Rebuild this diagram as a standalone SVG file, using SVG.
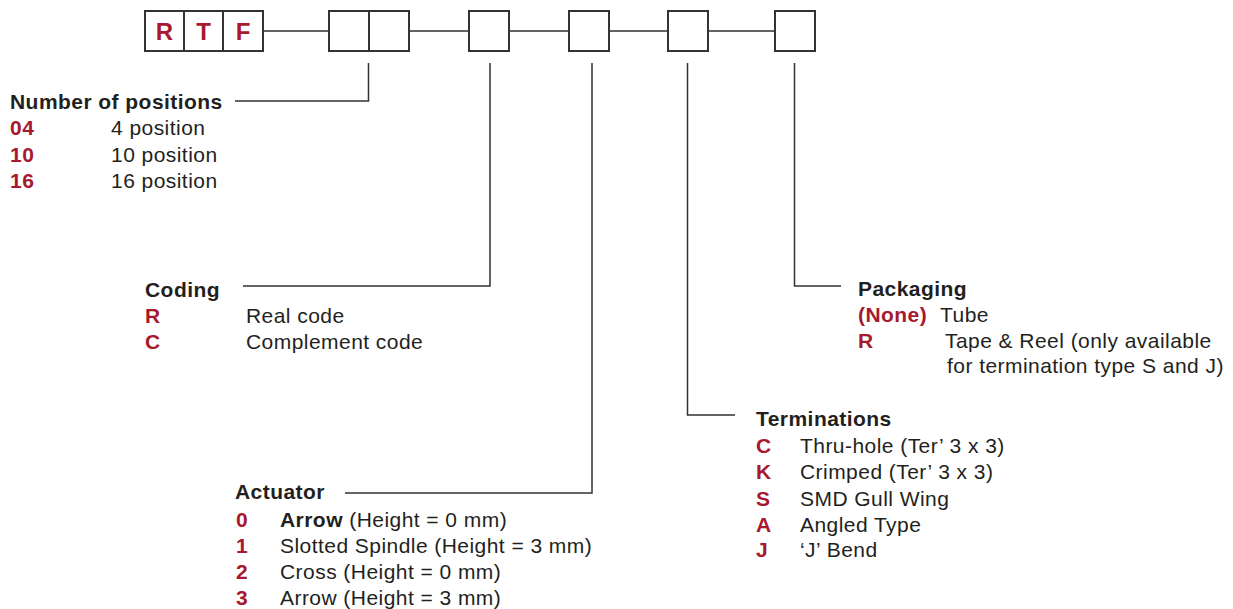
<svg xmlns="http://www.w3.org/2000/svg" width="1233" height="609" viewBox="0 0 1233 609">
<style>
text{font-family:"Liberation Sans",Arial,sans-serif;font-size:21px;letter-spacing:0.45px;fill:#231f20}
.h{font-weight:bold}
.r{font-weight:bold;fill:#a6192e}
.box{fill:#fff;stroke:#333;stroke-width:2}
.ln{fill:none;stroke:#333;stroke-width:1.5}
.code{font-size:24px;letter-spacing:0;text-anchor:middle}
</style>
<rect width="1233" height="609" fill="#fff"/>
<g id="connectors">
<path class="ln" d="M263 31H329M409 31H469M509 31H569M609 31H668M708 31H775"/>
<path class="ln" d="M235 101H368.5V63"/>
<path class="ln" d="M243 286H490V63"/>
<path class="ln" d="M345 493H592V63"/>
<path class="ln" d="M735 415H687.5V63"/>
<path class="ln" d="M841 286H794.5V63"/>
</g>
<g id="code-rtf">
<rect class="box" x="145" y="11" width="39" height="40"/>
<rect class="box" x="184" y="11" width="39" height="40"/>
<rect class="box" x="223" y="11" width="40" height="40"/>
<text class="r code" x="164.5" y="40">R</text>
<text class="r code" x="203.5" y="40">T</text>
<text class="r code" x="243" y="40">F</text>
</g>
<g id="box-positions">
<rect class="box" x="329" y="11" width="40" height="40"/>
<rect class="box" x="369" y="11" width="40" height="40"/>
</g>
<g id="box-coding"><rect class="box" x="469" y="11" width="40" height="40"/></g>
<g id="box-actuator"><rect class="box" x="569" y="11" width="40" height="40"/></g>
<g id="box-terminations"><rect class="box" x="668" y="11" width="40" height="40"/></g>
<g id="box-packaging"><rect class="box" x="775" y="11" width="40" height="40"/></g>
<g id="positions">
<text class="h" x="10" y="109">Number of positions</text>
<text class="r" x="10" y="135">04</text><text x="111" y="135">4 position</text>
<text class="r" x="10" y="162">10</text><text x="111" y="162">10 position</text>
<text class="r" x="10" y="188">16</text><text x="111" y="188">16 position</text>
</g>
<g id="coding">
<text class="h" x="145" y="297">Coding</text>
<text class="r" x="145" y="323">R</text><text x="246" y="323">Real code</text>
<text class="r" x="145" y="349">C</text><text x="246" y="349">Complement code</text>
</g>
<g id="actuator">
<text class="h" x="235" y="499">Actuator</text>
<text class="r" x="236" y="527">0</text><text x="280" y="527"><tspan class="h">Arrow</tspan> (Height = 0 mm)</text>
<text class="r" x="236" y="553">1</text><text x="280" y="553">Slotted Spindle (Height = 3 mm)</text>
<text class="r" x="236" y="579">2</text><text x="280" y="579">Cross (Height = 0 mm)</text>
<text class="r" x="236" y="605">3</text><text x="280" y="605">Arrow (Height = 3 mm)</text>
</g>
<g id="terminations">
<text class="h" x="756" y="426">Terminations</text>
<text class="r" x="756" y="453">C</text><text x="800" y="453">Thru-hole (Ter’ 3 x 3)</text>
<text class="r" x="756" y="479">K</text><text x="800" y="479">Crimped (Ter’ 3 x 3)</text>
<text class="r" x="756" y="506">S</text><text x="800" y="506">SMD Gull Wing</text>
<text class="r" x="756" y="532">A</text><text x="800" y="532">Angled Type</text>
<text class="r" x="756" y="557">J</text><text x="800" y="557">‘J’ Bend</text>
</g>
<g id="packaging">
<text class="h" x="858" y="296">Packaging</text>
<text class="r" x="858" y="322">(None)</text><text x="940" y="322">Tube</text>
<text class="r" x="858" y="348">R</text><text x="945" y="348">Tape &amp; Reel (only available</text>
<text x="947" y="373">for termination type S and J)</text>
</g>
</svg>
